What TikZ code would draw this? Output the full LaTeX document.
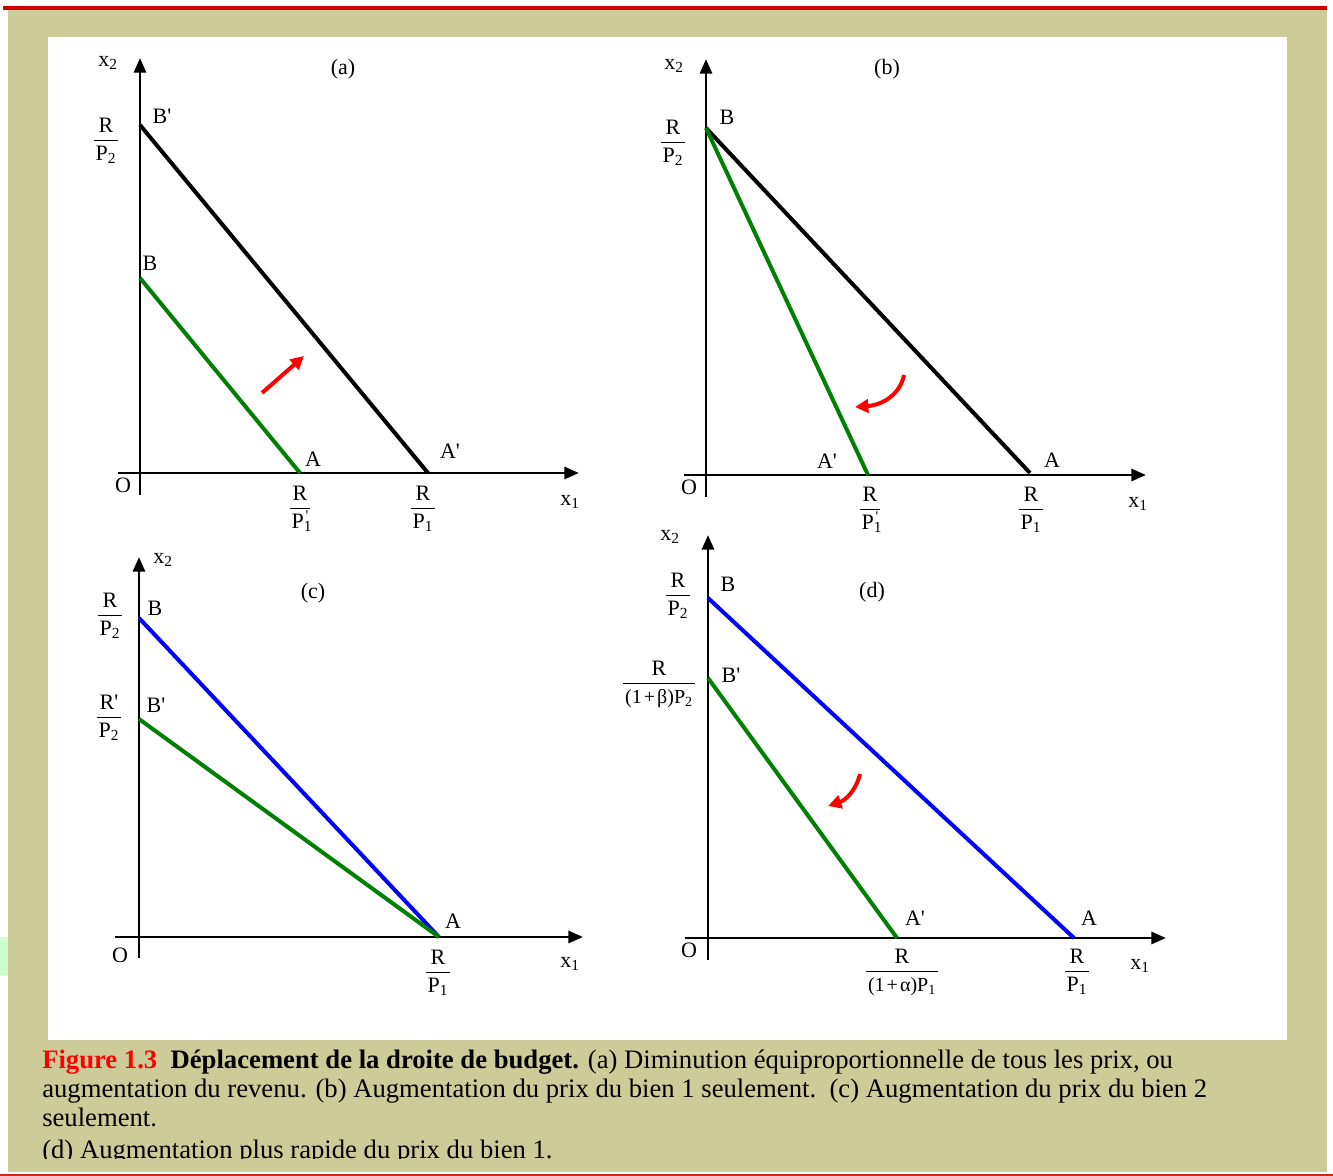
\documentclass[tikz,border=0pt]{standalone}
\usepackage{fontspec}
\setmainfont{Liberation Serif}
\usetikzlibrary{arrows.meta}

\definecolor{khaki}{RGB}{205,203,151}
\definecolor{darkred}{RGB}{204,0,0}
\definecolor{budgetgreen}{RGB}{0,128,0}
\definecolor{paleg}{RGB}{204,255,204}

% fraction written as in the book: numerator over a thin bar
\newcommand{\frc}[2]{{\setlength{\arrayrulewidth}{0.5pt}\renewcommand{\arraystretch}{0.95}%
  \begin{tabular}{@{\hspace{1.5pt}}c@{\hspace{1.5pt}}}#1\\\hline\rule{0pt}{15pt}#2\end{tabular}}}
\newcommand{\Pone}{P\textsubscript{1}}
\newcommand{\Ptwo}{P\textsubscript{2}}
\newcommand{\Ponep}{P\textsubscript{1}\kern-0.3em\raisebox{0.75ex}{\fontsize{11}{11}\selectfont\textquotesingle}}
\newcommand{\pr}{\textquotesingle}
\newcommand{\smalldn}[1]{{\fontsize{15}{17}\selectfont #1}}

\begin{document}
\begin{tikzpicture}[x=0.75pt, y=-0.75pt,
    axis/.style={line width=2.2pt, -{Triangle[length=11pt,width=9pt]}},
    budget/.style={line width=3pt},
    shiftarrow/.style={draw=red, line width=3pt, -{Triangle[length=10pt,width=10pt]}},
    lbl/.style={font=\fontsize{16.5}{18}\selectfont, inner sep=0pt}
]
    \useasboundingbox (0,0) rectangle (1333,1176);

    % page background
    \fill[khaki] (8,10) rectangle (1327,1172);
    \fill[paleg] (0,937) rectangle (8,975);
    \fill[white] (48,37) rectangle (1287,1040);
    \draw[darkred, line width=3.5pt] (3,8) -- (1327,8);
    \draw[darkred!80!khaki, line width=1.5pt] (0,1175) -- (1333,1175);

    % ---------- (a)
    \coordinate (aO) at (140,473);
    \coordinate (aYb) at (140,495);
    \coordinate (aYt) at (140,58);
    \coordinate (aXl) at (118,473);
    \coordinate (aXr) at (579,473);
    \coordinate (aBp) at (140,125);
    \coordinate (aAp) at (428,473);
    \coordinate (aB) at (140,278);
    \coordinate (aA) at (300,473);
    \coordinate (aR1) at (262,393);
    \coordinate (aR2) at (304,356);
    \draw[axis] (aYb) -- (aYt);
    \draw[axis] (aXl) -- (aXr);
    \draw[budget] (aBp) -- (aAp);
    \draw[budget, budgetgreen] (aB) -- (aA);
    \draw[shiftarrow] (aR1) -- (aR2);
    \node[lbl] (ax2) at (108,63) {x\textsubscript{2}};
    \node[lbl] (atitle) at (343,69) {(a)};
    \node[lbl] (aRP2) at (106,142) {\frc{R}{\Ptwo}};
    \node[lbl] (aBpl) at (162,116) {B\pr};
    \node[lbl] (aBl) at (150,263) {B};
    \node[lbl] (aAl) at (313,459) {A};
    \node[lbl] (aApl) at (450,451) {A\pr};
    \node[lbl] (aOl) at (123,485) {O};
    \node[lbl] (aRP1p) at (300,510) {\frc{R}{\Ponep}};
    \node[lbl] (aRP1) at (423,510) {\frc{R}{\Pone}};
    \node[lbl] (ax1) at (570,502) {x\textsubscript{1}};

    % ---------- (b)
    \coordinate (bO) at (706,475);
    \coordinate (bYb) at (706,497);
    \coordinate (bYt) at (706,59);
    \coordinate (bXl) at (684,475);
    \coordinate (bXr) at (1146,475);
    \coordinate (bB) at (706,128);
    \coordinate (bA) at (1030,473);
    \coordinate (bAp) at (868,475);
    \coordinate (bR1) at (904,375);
    \coordinate (bR2) at (855,407);
    \draw[axis] (bYb) -- (bYt);
    \draw[axis] (bXl) -- (bXr);
    \draw[budget] (bB) -- (bA);
    \draw[budget, budgetgreen] (bB) -- (bAp);
    \draw[shiftarrow] (bR1) .. controls (900,395) and (882,405) .. (bR2);
    \node[lbl] (bx2) at (674,66) {x\textsubscript{2}};
    \node[lbl] (btitle) at (887,69) {(b)};
    \node[lbl] (bRP2) at (673,144) {\frc{R}{\Ptwo}};
    \node[lbl] (bBl) at (727,117) {B};
    \node[lbl] (bApl) at (827,461) {A\pr};
    \node[lbl] (bAl) at (1052,460) {A};
    \node[lbl] (bOl) at (689,487) {O};
    \node[lbl] (bRP1p) at (870,511) {\frc{R}{\Ponep}};
    \node[lbl] (bRP1) at (1031,511) {\frc{R}{\Pone}};
    \node[lbl] (bx1) at (1138,504) {x\textsubscript{1}};

    % ---------- (c)
    \coordinate (cO) at (139,937);
    \coordinate (cYb) at (139,958);
    \coordinate (cYt) at (139,557);
    \coordinate (cXl) at (115,937);
    \coordinate (cXr) at (583,937);
    \coordinate (cB) at (139,618);
    \coordinate (cBp) at (139,719);
    \coordinate (cA) at (439,937);
    \draw[axis] (cYb) -- (cYt);
    \draw[axis] (cXl) -- (cXr);
    \draw[budget, blue] (cB) -- (cA);
    \draw[budget, budgetgreen] (cBp) -- (cA);
    \node[lbl] (cx2) at (163,560) {x\textsubscript{2}};
    \node[lbl] (ctitle) at (313,593) {(c)};
    \node[lbl] (cRP2) at (110,617) {\frc{R}{\Ptwo}};
    \node[lbl] (cRpP2) at (109,719) {\frc{R\pr}{\Ptwo}};
    \node[lbl] (cBl) at (155,608) {B};
    \node[lbl] (cBpl) at (156,705) {B\pr};
    \node[lbl] (cAl) at (453,921) {A};
    \node[lbl] (cOl) at (120,955) {O};
    \node[lbl] (cRP1) at (438,974) {\frc{R}{\Pone}};
    \node[lbl] (cx1) at (570,964) {x\textsubscript{1}};

    % ---------- (d)
    \coordinate (dO) at (708,938);
    \coordinate (dYb) at (708,960);
    \coordinate (dYt) at (708,535);
    \coordinate (dXl) at (685,938);
    \coordinate (dXr) at (1166,938);
    \coordinate (dB) at (708,598);
    \coordinate (dBp) at (708,678);
    \coordinate (dA) at (1074,938);
    \coordinate (dAp) at (897,938);
    \coordinate (dR1) at (860,774);
    \coordinate (dR2) at (828,806);
    \draw[axis] (dYb) -- (dYt);
    \draw[axis] (dXl) -- (dXr);
    \draw[budget, blue] (dB) -- (dA);
    \draw[budget, budgetgreen] (dBp) -- (dAp);
    \draw[shiftarrow] (dR1) .. controls (856,790) and (846,800) .. (dR2);
    \node[lbl] (dx2) at (670,537) {x\textsubscript{2}};
    \node[lbl] (dtitle) at (872,592) {(d)};
    \node[lbl] (dRP2) at (678,597) {\frc{R}{\Ptwo}};
    \node[lbl] (dRbP2) at (659,685) {\frc{R}{\smalldn{(1\kern1.5pt+\kern1.5ptβ)\Ptwo}}};
    \node[lbl] (dBl) at (728,584) {B};
    \node[lbl] (dBpl) at (731,675) {B\pr};
    \node[lbl] (dApl) at (915,918) {A\pr};
    \node[lbl] (dAl) at (1089,918) {A};
    \node[lbl] (dOl) at (689,950) {O};
    \node[lbl] (dRaP1) at (902,973) {\frc{R}{\smalldn{(1\kern1.5pt+\kern1.5ptα)\Pone}}};
    \node[lbl] (dRP1) at (1077,973) {\frc{R}{\Pone}};
    \node[lbl] (dx1) at (1140,966) {x\textsubscript{1}};

    % ---------- caption
    \begin{scope}
      \clip (0,1040) rectangle (1333,1158);
      \tikzset{capline/.style={anchor=base west, inner sep=0pt, font=\fontsize{20}{22}\selectfont}}
      \node[capline] (cap1) at (42,1068) {\textcolor{red}{\textbf{Figure 1.3}}\ \ \textbf{Déplacement de la droite de budget.} (a) Diminution équiproportionnelle de tous les prix, ou};
      \node[capline] (cap2) at (42,1097) {augmentation du revenu. (b) Augmentation du prix du bien 1 seulement.\ \ (c) Augmentation du prix du bien 2};
      \node[capline] (cap3) at (42,1126) {seulement.};
      \node[capline] (cap4) at (42,1158) {(d) Augmentation plus rapide du prix du bien 1.};
    \end{scope}
\end{tikzpicture}
\end{document}
